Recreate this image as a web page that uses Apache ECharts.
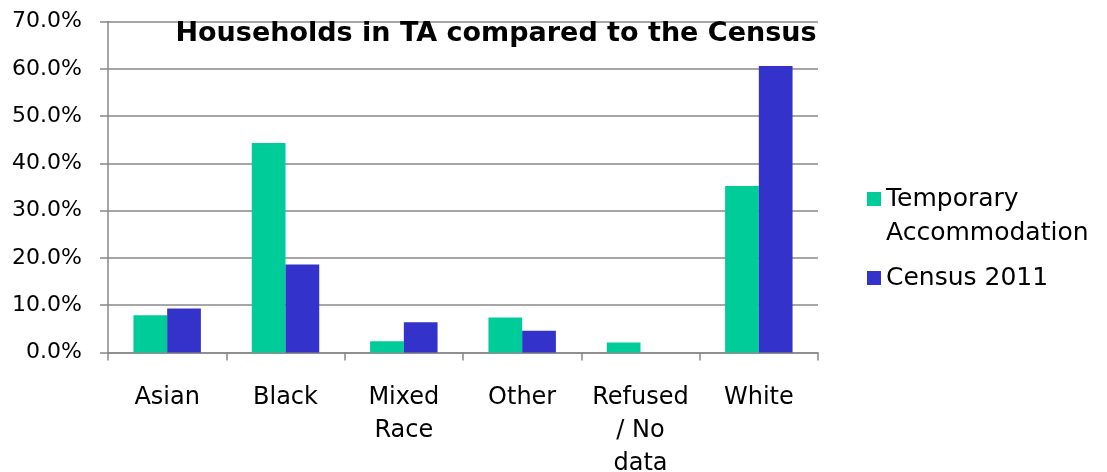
<!DOCTYPE html>
<html><head><meta charset="utf-8">
<script src="https://cdn.jsdelivr.net/npm/echarts@6/dist/echarts.min.js"></script>
<style>html,body{margin:0;padding:0;background:#fff}#c{width:1107px;height:472px}</style>
</head><body><div id="c"></div>
<script>
const categories = ["Asian", "Black", "Mixed\nRace", "Other", "Refused\n/ No\ndata", "White"];
const seriesNames = ["Temporary Accommodation", "Census 2011"];
const taValues = [7.9, 44.3, 2.4, 7.4, 2.1, 35.2];
const censusValues = [9.3, 18.6, 6.4, 4.6, 0, 60.6];
const titleText = "Households in TA compared to the Census";

const font = "'DejaVu Sans', sans-serif";
const chart = echarts.init(document.getElementById('c'));
chart.setOption({
  animation: false,
  title: {
    text: titleText, left: 491, top: 15, textAlign: 'center',
    textStyle: {fontFamily: font, fontWeight: 'bold', fontSize: 27, color: '#000'}
  },
  legend: {
    orient: 'vertical', left: 862, top: 143,
    itemWidth: 14, itemHeight: 14, itemGap: 11,
    icon: 'rect',
    formatter: n => n === "Temporary Accommodation" ? "\u200b\nTemporary\nAccommodation" : n,
    textStyle: {fontFamily: font, fontSize: 25, color: '#000', lineHeight: 34},
    data: [seriesNames[0], seriesNames[1]]
  },
  grid: {left: 108, right: 289, top: 21.5, bottom: 119.5, outerBoundsMode: 'none', containLabel: false},
  xAxis: {
    type: 'category', data: categories,
    axisLine: {lineStyle: {color: '#888', width: 1.5}},
    axisTick: {show: true, length: 8, lineStyle: {color: '#888', width: 1.5}},
    axisLabel: {fontFamily: font, fontSize: 24, color: '#000', margin: 29, lineHeight: 33, interval: 0}
  },
  yAxis: {
    type: 'value', min: 0, max: 70, interval: 10,
    axisLine: {show: true, lineStyle: {color: '#888', width: 1.5}},
    axisTick: {show: true, length: 8, lineStyle: {color: '#888', width: 1.5}},
    splitLine: {lineStyle: {color: '#888', width: 1.5}},
    axisLabel: {fontFamily: font, fontSize: 22, color: '#000', margin: 26,
      formatter: v => v.toFixed(1) + '%'}
  },
  series: [
    {name: seriesNames[0], type: 'bar', data: taValues, barGap: '0%', barCategoryGap: '43%',
     itemStyle: {color: '#00CC99'}},
    {name: seriesNames[1], type: 'bar', data: censusValues, barGap: '0%', barCategoryGap: '43%',
     itemStyle: {color: '#3333CC'}}
  ]
});
</script></body></html>
